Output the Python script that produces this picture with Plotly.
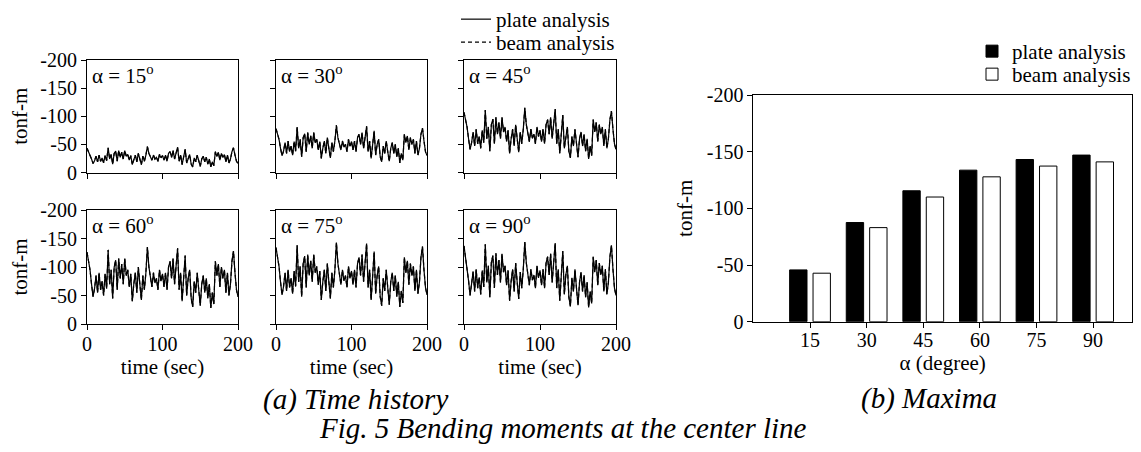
import plotly.graph_objects as go

# The page body has an 8 px default margin, so the figure is sized to fill the
# rest of the 1141x452 window and reference-pixel positions are shifted by 8.
OFF = 8
W, H = 1141 - OFF, 452 - OFF
FONT = "Liberation Serif"


def px(x):
    return (x - OFF) / W


def py(y):
    return 1 - (y - OFF) / H


# ---------------- data ----------------
angles = [15, 30, 45, 60, 75, 90]
panel_labels = ["α = 15<sup>o</sup>", "α = 30<sup>o</sup>", "α = 45<sup>o</sup>",
                "α = 60<sup>o</sup>", "α = 75<sup>o</sup>", "α = 90<sup>o</sup>"]
time_sec = list(range(0, 201, 2))

# bending moment magnitude (tonf-m), read from the time histories (sign negative)
m15 = [43, 37, 32, 24, 16, 21, 29, 19, 31, 20,
       26, 17, 30, 21, 44, 24, 32, 15, 34, 38,
       20, 39, 27, 36, 24, 39, 29, 32, 22, 30,
       14, 24, 31, 19, 34, 24, 14, 29, 20, 31,
       46, 34, 27, 22, 31, 24, 27, 20, 32, 26,
       30, 22, 31, 20, 34, 37, 27, 39, 24, 36,
       45, 20, 31, 14, 29, 41, 17, 27, 32, 15,
       10, 26, 19, 31, 20, 11, 24, 29, 19, 27,
       15, 24, 10, 19, 12, 37, 29, 36, 22, 34,
       27, 32, 19, 31, 17, 24, 37, 44, 31, 20,
       16]
m30 = [78, 68, 59, 43, 30, 38, 53, 34, 56, 37,
       47, 31, 55, 38, 81, 43, 59, 28, 62, 69,
       37, 71, 50, 65, 43, 71, 53, 59, 40, 55,
       25, 43, 56, 34, 62, 43, 26, 53, 37, 56,
       84, 62, 50, 40, 56, 45, 50, 37, 59, 47,
       55, 40, 56, 37, 62, 68, 50, 71, 43, 65,
       82, 37, 56, 25, 53, 74, 31, 50, 59, 28,
       19, 47, 34, 56, 37, 20, 43, 53, 34, 50,
       28, 43, 17, 34, 22, 68, 53, 65, 40, 62,
       50, 59, 34, 56, 31, 43, 68, 79, 56, 37,
       30]
m45 = [107, 94, 81, 60, 41, 53, 72, 47, 77, 51,
       64, 43, 75, 53, 111, 60, 81, 38, 85, 95,
       51, 98, 68, 89, 60, 98, 72, 81, 55, 75,
       34, 60, 77, 47, 85, 60, 36, 72, 51, 77,
       115, 85, 68, 55, 77, 61, 68, 51, 81, 64,
       75, 55, 77, 51, 85, 94, 68, 98, 60, 89,
       113, 51, 77, 34, 72, 102, 43, 68, 81, 38,
       26, 64, 47, 77, 51, 27, 60, 72, 47, 68,
       38, 60, 24, 47, 30, 94, 72, 89, 55, 85,
       68, 81, 47, 77, 43, 60, 94, 109, 77, 51,
       41]
m60 = [126, 110, 95, 70, 48, 62, 85, 55, 90, 60,
       75, 50, 88, 62, 130, 70, 95, 45, 100, 112,
       60, 115, 80, 105, 70, 115, 85, 95, 65, 88,
       40, 70, 90, 55, 100, 70, 42, 85, 60, 90,
       135, 100, 80, 65, 90, 72, 80, 60, 95, 75,
       88, 65, 90, 60, 100, 110, 80, 115, 70, 105,
       133, 60, 90, 40, 85, 120, 50, 80, 95, 45,
       30, 75, 55, 90, 60, 32, 70, 85, 55, 80,
       45, 70, 28, 55, 35, 110, 85, 105, 65, 100,
       80, 95, 55, 90, 50, 70, 110, 128, 90, 60,
       48]
m75 = [134, 117, 101, 74, 51, 66, 90, 58, 95, 64,
       80, 53, 93, 66, 138, 74, 101, 48, 106, 119,
       64, 122, 85, 111, 74, 122, 90, 101, 69, 93,
       42, 74, 95, 58, 106, 74, 45, 90, 64, 95,
       143, 106, 85, 69, 95, 76, 85, 64, 101, 80,
       93, 69, 95, 64, 106, 117, 85, 122, 74, 111,
       141, 64, 95, 42, 90, 127, 53, 85, 101, 48,
       32, 80, 58, 95, 64, 34, 74, 90, 58, 85,
       48, 74, 30, 58, 37, 117, 90, 111, 69, 106,
       85, 101, 58, 95, 53, 74, 117, 136, 95, 64,
       51]
m90 = [137, 118, 100, 76, 50, 67, 92, 57, 96, 63,
       82, 52, 94, 65, 140, 73, 102, 47, 108, 120,
       63, 124, 86, 112, 73, 123, 91, 102, 68, 94,
       41, 75, 96, 57, 107, 73, 44, 91, 63, 96,
       144, 107, 86, 68, 96, 77, 86, 63, 102, 81,
       94, 68, 96, 63, 107, 118, 86, 123, 73, 112,
       142, 63, 96, 41, 91, 128, 52, 86, 102, 47,
       31, 81, 57, 96, 63, 33, 73, 91, 57, 86,
       47, 73, 29, 57, 36, 118, 91, 112, 68, 107,
       86, 102, 57, 96, 52, 73, 118, 138, 96, 63,
       50]
histories = [m15, m30, m45, m60, m75, m90]

# maxima (tonf-m)
plate_max = [-45.7, -87.5, -115.5, -133.7, -143.1, -147.0]
beam_max = [-42.8, -83.0, -110.0, -127.8, -137.3, -141.0]

y_ticks = [-200, -150, -100, -50, 0]
y_tick_text = ["-200", "-150", "-100", "-50", "0"]
x_ticks_time = [0, 100, 200]

# ---------------- layout geometry (reference pixels) ----------------
col_px = [(87, 238), (276, 427), (464, 616)]
row_px = [(60, 172.5), (210, 324)]
bar_x_px = (753.4, 1132)
bar_y_px = (95, 321.7)

fig = go.Figure()

for i, series in enumerate(histories):
    n = i + 1
    xa = "x" if n == 1 else f"x{n}"
    ya = "y" if n == 1 else f"y{n}"
    yvals = [-v for v in series]
    fig.add_trace(go.Scatter(x=time_sec, y=yvals, mode="lines",
                             line=dict(color="black", width=1.2),
                             name="plate analysis", legend="legend",
                             showlegend=(n == 1), xaxis=xa, yaxis=ya))
    fig.add_trace(go.Scatter(x=time_sec, y=yvals, mode="lines",
                             line=dict(color="black", width=1.2, dash="4px,3px"),
                             name="beam analysis", legend="legend3",
                             showlegend=(n == 1), xaxis=xa, yaxis=ya))

fig.add_trace(go.Bar(x=angles, y=plate_max, width=4.6, offset=-5.4,
                     marker=dict(color="black", line=dict(color="black", width=1)),
                     name="plate analysis", legend="legend2",
                     xaxis="x7", yaxis="y7"))
fig.add_trace(go.Bar(x=angles, y=beam_max, width=4.6, offset=0.8,
                     marker=dict(color="white", line=dict(color="black", width=1)),
                     name="beam analysis", legend="legend4",
                     xaxis="x7", yaxis="y7"))

axis_common = dict(showline=True, linecolor="black", linewidth=1, mirror=True,
                   ticks="outside", ticklen=5, tickcolor="black", tickwidth=1,
                   showgrid=False, zeroline=False, automargin=False,
                   tickfont=dict(family=FONT, size=20, color="black"))

layout = dict(width=W, height=H,
              margin=dict(l=0, r=0, t=0, b=0, autoexpand=False),
              paper_bgcolor="white", plot_bgcolor="white",
              font=dict(family=FONT, size=21, color="black"),
              barmode="overlay", annotations=[])

for i in range(6):
    n = i + 1
    r, c = divmod(i, 3)
    x0, x1 = col_px[c]
    y0, y1 = row_px[r]
    xkey = "xaxis" if n == 1 else f"xaxis{n}"
    ykey = "yaxis" if n == 1 else f"yaxis{n}"
    yname = "y" if n == 1 else f"y{n}"
    xname = "x" if n == 1 else f"x{n}"
    xa = dict(axis_common, domain=[px(x0), px(x1)], anchor=yname,
              range=[0, 200], tickvals=x_ticks_time,
              showticklabels=(r == 1), ticklabelstandoff=-3)
    if r == 1:
        xa["title"] = dict(text="time (sec)", standoff=3,
                           font=dict(family=FONT, size=21))
    ya = dict(axis_common, domain=[py(y1), py(y0)], anchor=xname,
              range=[0, -200], tickvals=y_ticks, ticktext=y_tick_text,
              showticklabels=(c == 0))
    if c == 0:
        ya["title"] = dict(text="tonf-m", standoff=12,
                           font=dict(family=FONT, size=21))
    layout[xkey] = xa
    layout[ykey] = ya
    layout["annotations"].append(dict(
        text=panel_labels[i], xref="paper", yref="paper",
        x=px(x0 + 3), y=py(y0 - 1), xanchor="left", yanchor="top",
        showarrow=False, font=dict(family=FONT, size=21, color="black")))

layout["xaxis7"] = dict(axis_common, domain=[px(bar_x_px[0]), px(bar_x_px[1])],
                        anchor="y7", range=[0, 100.3], tickvals=angles,
                        ticklabelstandoff=-5,
                        title=dict(text="α (degree)", standoff=5,
                                   font=dict(family=FONT, size=21)))
layout["yaxis7"] = dict(axis_common, domain=[py(bar_y_px[1]), py(bar_y_px[0])],
                        anchor="x7", range=[0, -200], tickvals=y_ticks,
                        ticktext=y_tick_text,
                        title=dict(text="tonf-m", standoff=8,
                                   font=dict(family=FONT, size=21)))

leg_common = dict(xanchor="left", yanchor="top", bgcolor="rgba(0,0,0,0)",
                  tracegroupgap=0, font=dict(family=FONT, size=21, color="black"))
layout["legend"] = dict(leg_common, x=px(456), y=py(-1))
layout["legend3"] = dict(leg_common, x=px(456), y=py(22))
layout["legend2"] = dict(leg_common, x=px(972), y=py(31))
layout["legend4"] = dict(leg_common, x=px(972), y=py(54))

caption_font = dict(family=FONT, size=29, color="black")
layout["annotations"] += [
    dict(text="<i>(a) Time history</i>", xref="paper", yref="paper",
         x=px(355), y=py(399), xanchor="center", yanchor="middle",
         showarrow=False, font=caption_font),
    dict(text="<i>(b) Maxima</i>", xref="paper", yref="paper",
         x=px(929), y=py(398), xanchor="center", yanchor="middle",
         showarrow=False, font=caption_font),
    dict(text="<i>Fig. 5 Bending moments at the center line</i>", xref="paper",
         yref="paper", x=px(563), y=py(428), xanchor="center", yanchor="middle",
         showarrow=False, font=caption_font),
]

fig.update_layout(**layout)
fig.write_html("out.html")
